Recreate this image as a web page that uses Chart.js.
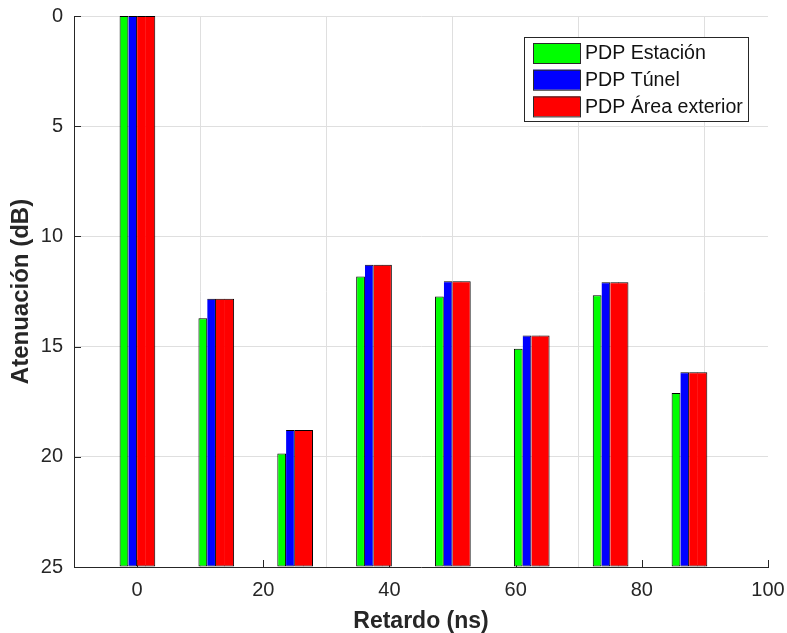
<!DOCTYPE html>
<html>
<head>
<meta charset="utf-8">
<script src="https://cdn.jsdelivr.net/npm/chart.js@4.4.1/dist/chart.umd.min.js"></script>
<style>
  body { margin: 0; background: #fff; }
  #wrap { width: 787px; height: 633px; }
</style>
</head>
<body>
<div id="wrap"><canvas id="myChart" width="787" height="633"></canvas></div>
<script>
// datos
const delays = [0, 12.5, 25, 37.5, 50, 62.5, 75, 87.5];
const estacion = [0, 13.71, 19.85, 11.82, 12.73, 15.10, 12.67, 17.11];
const tunel = [0, 12.83, 18.78, 11.29, 12.03, 14.50, 12.08, 16.16];
const exterior = [0, 12.83, 18.78, 11.29, 12.03, 14.50, 12.08, 16.16];
const seriesNames = ['PDP Estación', 'PDP Túnel', 'PDP Área exterior'];
const seriesColors = ['#00ff00', '#0000ff', '#ff0000'];
const xTicks = [0, 20, 40, 60, 80, 100];
const yTicks = [0, 5, 10, 15, 20, 25];

const axisColor = '#262626';
const gridColor = '#dfdfdf';
const edgeColor = '#000000';
const fontFamily = '"Liberation Sans", Arial, sans-serif';

function toPoints(values) {
    return delays.map((d, i) => ({ x: d, y: values[i] }));
}

function makeSet(label, values, color, edges, pct) {
    return {
        label: label,
        data: toPoints(values),
        backgroundColor: color,
        borderColor: edgeColor,
        borderWidth: edges,
        borderSkipped: false,
        base: 25,
        categoryPercentage: 0.444,
        barPercentage: pct
    };
}

// the red bars in the figure are twice as wide, so the last series fills two slots
const datasets = [
    makeSet(seriesNames[0], estacion, seriesColors[0], { left: 1, top: 1, right: 1, bottom: 1 }, 1),
    makeSet(seriesNames[1], tunel, seriesColors[1], { left: 0, top: 1, right: 1, bottom: 1 }, 1),
    makeSet(seriesNames[2], exterior, seriesColors[2], { left: 0, top: 1, right: 0, bottom: 1 }, 1),
    makeSet('', exterior, seriesColors[2], { left: 0, top: 1, right: 1, bottom: 1 }, 1.15)
];

// ticks hacia dentro, como en MATLAB
const innerTicks = {
    id: 'innerTicks',
    beforeDatasetsDraw(chart) {
        const { ctx, chartArea } = chart;
        const x = chart.scales.x, y = chart.scales.y;
        ctx.save();
        ctx.strokeStyle = axisColor;
        ctx.lineWidth = 1;
        ctx.beginPath();
        xTicks.forEach(v => {
            const px = Math.round(x.getPixelForValue(v)) + 0.5;
            ctx.moveTo(px, chartArea.bottom);
            ctx.lineTo(px, chartArea.bottom - 7);
        });
        yTicks.forEach(v => {
            const py = Math.round(y.getPixelForValue(v)) + 0.5;
            ctx.moveTo(chartArea.left, py);
            ctx.lineTo(chartArea.left + 7, py);
        });
        ctx.stroke();
        ctx.restore();
    }
};

// leyenda dentro del área, arriba a la derecha
const boxLegend = {
    id: 'boxLegend',
    afterDraw(chart) {
        const { ctx, chartArea } = chart;
        const left = chartArea.right - 244, top = chartArea.top + 21;
        const w = 224, h = 84;
        ctx.save();
        ctx.fillStyle = '#fff';
        ctx.fillRect(left, top, w, h);
        ctx.strokeStyle = axisColor;
        ctx.lineWidth = 1;
        ctx.strokeRect(left + 0.5, top + 0.5, w, h);
        ctx.font = '19.6px ' + fontFamily;
        ctx.textBaseline = 'middle';
        for (let i = 0; i < 3; i++) {
            const ds = chart.data.datasets[i];
            const cy = top + 16 + i * 26.7;
            ctx.fillStyle = ds.backgroundColor;
            ctx.fillRect(left + 9, cy - 10, 47, 20);
            ctx.strokeStyle = '#2a2a2a';
            ctx.strokeRect(left + 9.5, cy - 9.5, 47, 20);
            ctx.fillStyle = '#111';
            ctx.fillText(ds.label, left + 61, cy + 1);
        }
        ctx.restore();
    }
};

const ctx = document.getElementById('myChart').getContext('2d');
const myChart = new Chart(ctx, {
    type: 'bar',
    data: { datasets: datasets },
    options: {
        responsive: false,
        animation: false,
        devicePixelRatio: 1,
        layout: { padding: { top: 16, right: 19, left: 0, bottom: 0 } },
        plugins: {
            legend: { display: false },
            tooltip: { enabled: false }
        },
        scales: {
            x: {
                type: 'linear',
                min: -10,
                max: 100,
                offset: false,
                afterBuildTicks: s => { s.ticks = xTicks.map(v => ({ value: v })); },
                afterFit: s => { s.height = 66; s.paddingLeft = 0; s.paddingRight = 0; },
                grid: { color: gridColor, drawTicks: false },
                border: { display: true, color: axisColor, width: 1 },
                ticks: {
                    color: axisColor,
                    padding: 11,
                    maxRotation: 0,
                    font: { family: fontFamily, size: 20 }
                },
                title: {
                    display: true,
                    text: 'Retardo (ns)',
                    color: axisColor,
                    padding: { top: 0, bottom: 0 },
                    font: { family: fontFamily, size: 23, weight: 'bold', lineHeight: 1 }
                }
            },
            y: {
                reverse: true,
                min: 0,
                max: 25,
                afterBuildTicks: s => { s.ticks = yTicks.map(v => ({ value: v })); },
                afterFit: s => { s.width = 74; s.paddingTop = 0; s.paddingBottom = 0; },
                grid: { color: gridColor, drawTicks: false },
                border: { display: true, color: axisColor, width: 1 },
                ticks: {
                    color: axisColor,
                    padding: 11,
                    font: { family: fontFamily, size: 20 }
                },
                title: {
                    display: true,
                    text: 'Atenuación (dB)',
                    color: axisColor,
                    padding: { top: 9, bottom: 0 },
                    font: { family: fontFamily, size: 24, weight: 'bold', lineHeight: 1 }
                }
            }
        }
    },
    plugins: [innerTicks, boxLegend]
});
</script>
</body>
</html>
